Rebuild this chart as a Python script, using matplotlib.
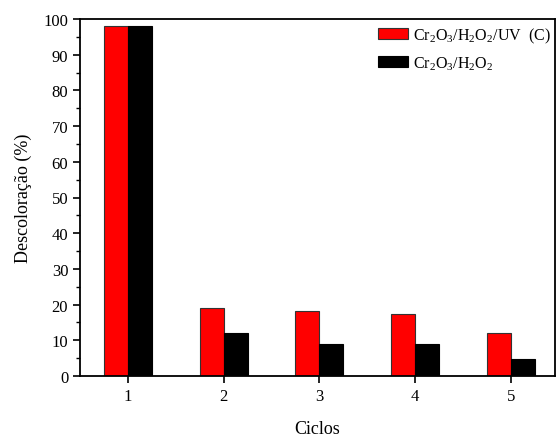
import numpy as np
import matplotlib
matplotlib.use("Agg")
import matplotlib.pyplot as plt
from matplotlib.ticker import MultipleLocator

plt.rcParams['font.family'] = ['Liberation Serif', 'DejaVu Serif']
plt.rcParams['mathtext.fontset'] = 'custom'
plt.rcParams['mathtext.rm'] = 'Liberation Serif'
plt.rcParams['mathtext.it'] = 'Liberation Serif:italic'

# Decolorization per reuse cycle
ciclos = [1, 2, 3, 4, 5]
uv_vals = [98.0, 19.0, 18.3, 17.4, 12.0]
dark_vals = [98.0, 12.0, 9.1, 9.1, 4.8]
labels = [r'Cr$_2$O$_3$/H$_2$O$_2$/UV  (C)', r'Cr$_2$O$_3$/H$_2$O$_2$']

fig = plt.figure(figsize=(5.59, 4.39), dpi=100)
ax = fig.add_axes([80 / 559, 1 - 377 / 439, 475 / 559, 357 / 439])

x = np.array(ciclos)
w = 0.25
ax.bar(x - w / 2, uv_vals, w, color='#ff0000', edgecolor='#333333', linewidth=0.8, label=labels[0])
ax.bar(x + w / 2, dark_vals, w, color='black', edgecolor='black', linewidth=0.8, label=labels[1])

ax.set_xlim(0.5, 5.46)
ax.set_ylim(0, 100)
ax.set_xticks(ciclos)
ax.yaxis.set_major_locator(MultipleLocator(10))
ax.yaxis.set_minor_locator(MultipleLocator(5))
ax.tick_params(axis='both', which='major', direction='out', length=5, width=1.2, labelsize=12)
ax.tick_params(axis='y', which='minor', direction='out', length=3, width=1.0)
for s in ax.spines.values():
    s.set_linewidth(1.3)

ax.set_xlabel('Ciclos', fontsize=13, labelpad=12)
ax.set_ylabel('Descoloração (%)', fontsize=13, labelpad=8)

ax.legend(loc='upper right', bbox_to_anchor=(1.005, 1.0), frameon=False, fontsize=11.5,
          handlelength=1.9, handleheight=0.7, borderaxespad=0.2, labelspacing=0.6,
          handletextpad=0.3, borderpad=0.2)

fig.savefig('out.png', dpi=100)
